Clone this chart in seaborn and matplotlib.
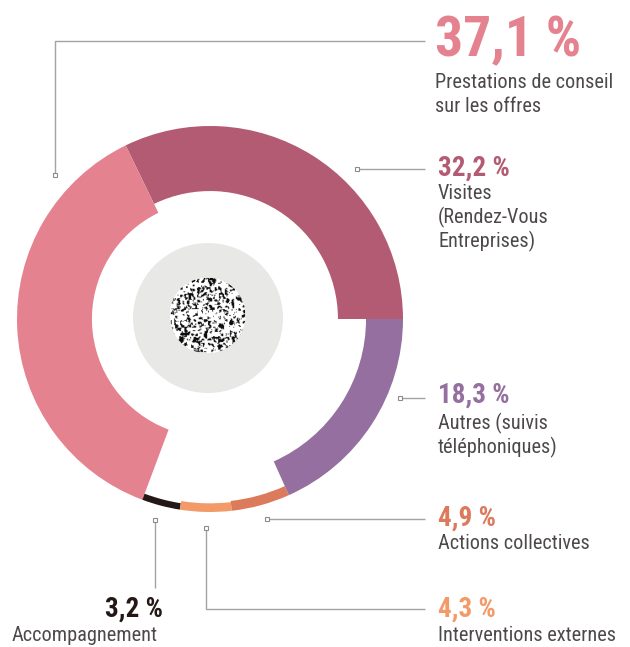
#!/usr/bin/env python3

"""Donut chart of the activity split, rebuilt with seaborn/matplotlib."""

import matplotlib

matplotlib.use("Agg")
import matplotlib.pyplot as plt
import numpy as np
import seaborn as sns
from matplotlib.patches import Circle

sns.set_theme(style="white")
plt.rcParams["font.family"] = ["Roboto Condensed", "DejaVu Sans"]

# data, in drawing order (counter-clockwise from 3 o'clock)
categories = [
    "Visites\n(Rendez-Vous\nEntreprises)",
    "Prestations de conseil\nsur les offres",
    "Accompagnement",
    "Interventions externes",
    "Actions collectives",
    "Autres (suivis\ntéléphoniques)",
]
values = [32.2, 37.1, 3.2, 4.3, 4.9, 18.3]
value_labels = ["32,2 %", "37,1 %", "3,2 %", "4,3 %", "4,9 %", "18,3 %"]
colors = ["#b35b73", "#e5828f", "#231815", "#f29b69", "#dc7a5c", "#946fa0"]

W, H = 630, 647
CX, CY, R = 210, H - 319, 193
RING_SCALE = 2.02  # ring thickness in px per percentage point
TEXT = "#4d4948"
LINE = "#a3a3a3"


def main():
    fig = plt.figure(figsize=(W / 100, H / 100), dpi=100)
    ax = fig.add_axes([0, 0, 1, 1])

    wedges, _ = ax.pie(
        values,
        colors=colors,
        startangle=0,
        counterclock=True,
        radius=R,
        center=(CX, CY),
        wedgeprops=dict(linewidth=0),
    )
    for wedge, v in zip(wedges, values):
        wedge.set_width(v * RING_SCALE)

    # grey disc and textured centre
    ax.add_patch(Circle((208, H - 318), 75, color="#e8e8e7", lw=0, zorder=3))
    clip = Circle((207.5, H - 315.5), 38, transform=ax.transData)
    rng = np.random.default_rng(7)
    noise = rng.random((90, 90))
    k = np.ones(3) / 3
    noise = np.apply_along_axis(lambda r: np.convolve(r, k, mode="same"), 0, noise)
    noise = np.apply_along_axis(lambda r: np.convolve(r, k, mode="same"), 1, noise)
    tex = (noise > 0.55).astype(float)
    img = ax.imshow(
        tex,
        cmap="Greys",
        vmin=0,
        vmax=1.05,
        extent=(169.5, 245.5, H - 353.5, H - 277.5),
        interpolation="bilinear",
        zorder=4,
    )
    img.set_clip_path(clip)

    # leader lines (image coordinates, y downwards)
    leaders = [
        [(357, 169), (425, 169)],
        [(55, 175), (55, 41), (425, 41)],
        [(155, 520), (155, 588)],
        [(206, 528), (206, 609), (425, 609)],
        [(267, 519), (425, 519)],
        [(400, 398), (425, 398)],
    ]
    for pts in leaders:
        xs = [p[0] for p in pts]
        ys = [H - p[1] for p in pts]
        ax.plot(xs, ys, color=LINE, lw=1.0, zorder=2, solid_capstyle="butt")
        ax.plot(xs[0], ys[0], marker="s", ms=3.2, mfc="white", mec="#8c8c8c",
                mew=0.8, zorder=5)

    # labels: (x, value baseline, label first baseline, ha, value size)
    label_pos = [
        (438, 176, 199, "left", 19.5),
        (435, 56, 88, "left", 40),
        (163, 617, 641, "right", 19.5),
        (438, 617, 641, "left", 19.5),
        (438, 526, 549, "left", 19.5),
        (438, 403, 429, "left", 19.5),
    ]
    for (x, yv, yl, ha, size), cat, lab, col in zip(
        label_pos, categories, value_labels, colors
    ):
        ax.text(x, H - yv, lab, color=col, fontsize=size, fontweight="bold",
                ha=ha, va="baseline")
        lx = 12 if ha == "right" else x
        for i, line in enumerate(cat.split("\n")):
            ax.text(lx, H - (yl + 24 * i), line, color=TEXT, fontsize=14.6,
                    ha="left", va="baseline")

    ax.set_xlim(0, W)
    ax.set_ylim(0, H)
    ax.set_aspect("auto")
    ax.axis("off")
    fig.savefig("out.png", dpi=100, facecolor="white")
    plt.close(fig)


if __name__ == "__main__":
    main()
